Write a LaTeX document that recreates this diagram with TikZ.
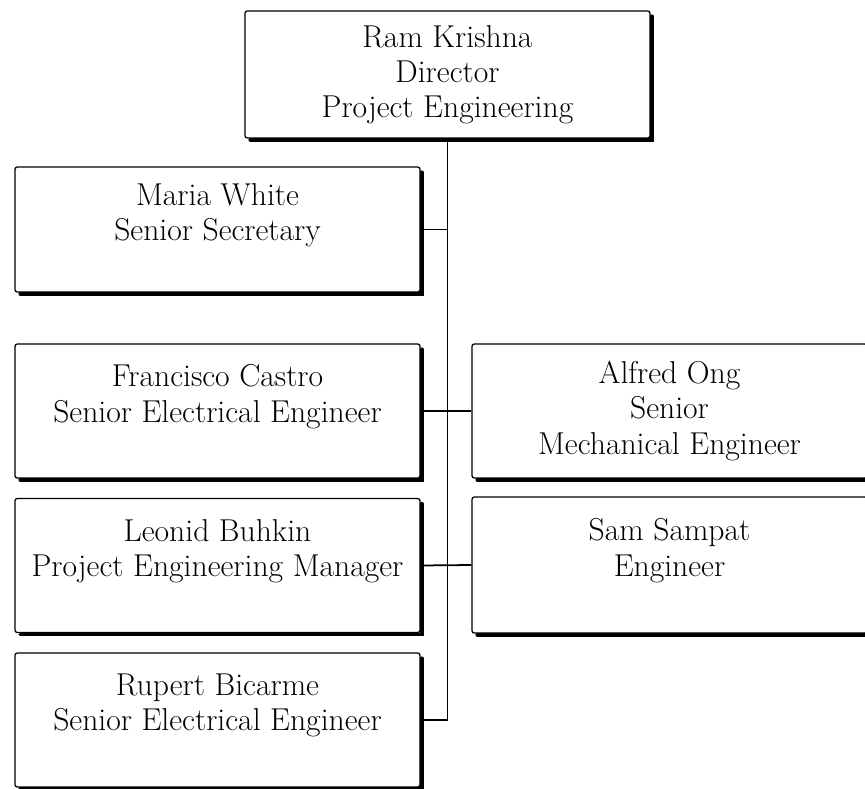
\documentclass[tikz,border=0pt]{standalone}
\usepackage{tikz}

\tikzset{
  orgbox/.style={draw, line width=1.1pt, rounded corners=2pt, align=center,
    inner sep=0pt, minimum width=12.15cm, minimum height=4.02cm,
    font=\fontsize{27pt}{30pt}\selectfont},
  edge/.style={line width=3pt, line cap=round},
  link/.style={line width=1.5pt}
}

\begin{document}
\begin{tikzpicture}[x=0.03cm, y=-0.03cm]
  \useasboundingbox (0,0) rectangle (865,789);

  % Director
  \node[orgbox, minimum height=3.81cm] (ram) at (447.5,74.5)
    {Ram Krishna\\Director\\Project Engineering};

  % Left column
  \node[orgbox, minimum height=3.75cm] (maria) at (217.5,229.5)
    {Maria White\\Senior Secretary\\\mbox{}};
  \node[orgbox] (francisco) at (217.5,411)
    {Francisco Castro\\Senior Electrical Engineer\\\mbox{}};
  \node[orgbox] (leonid) at (217.5,565.5)
    {Leonid Buhkin\\Project Engineering Manager\\\mbox{}};
  \node[orgbox] (rupert) at (217.5,720)
    {Rupert Bicarme\\Senior Electrical Engineer\\\mbox{}};

  % Right column
  \node[orgbox, minimum width=11.85cm] (alfred) at (669.5,411)
    {Alfred Ong\\Senior\\Mechanical Engineer};
  \node[orgbox, minimum width=11.85cm, minimum height=4.08cm] (sam) at (669.5,565)
    {Sam Sampat\\Engineer\\\mbox{}};

  % Heavy right and bottom edges
  \foreach \n in {ram,maria,francisco,leonid,rupert,alfred,sam}
    \draw[edge] ([xshift=1pt,yshift=-5pt]\n.north east) |- ([xshift=5pt,yshift=-1pt]\n.south west);

  % Reporting lines
  \draw[link] (ram.south) |- (rupert.east);
  \draw[link] (maria.east) -- (maria.east -| ram.south);
  \draw[link] (francisco.east) -- (alfred.west);
  \draw[link] (leonid.east) -- (sam.west);
\end{tikzpicture}
\end{document}
